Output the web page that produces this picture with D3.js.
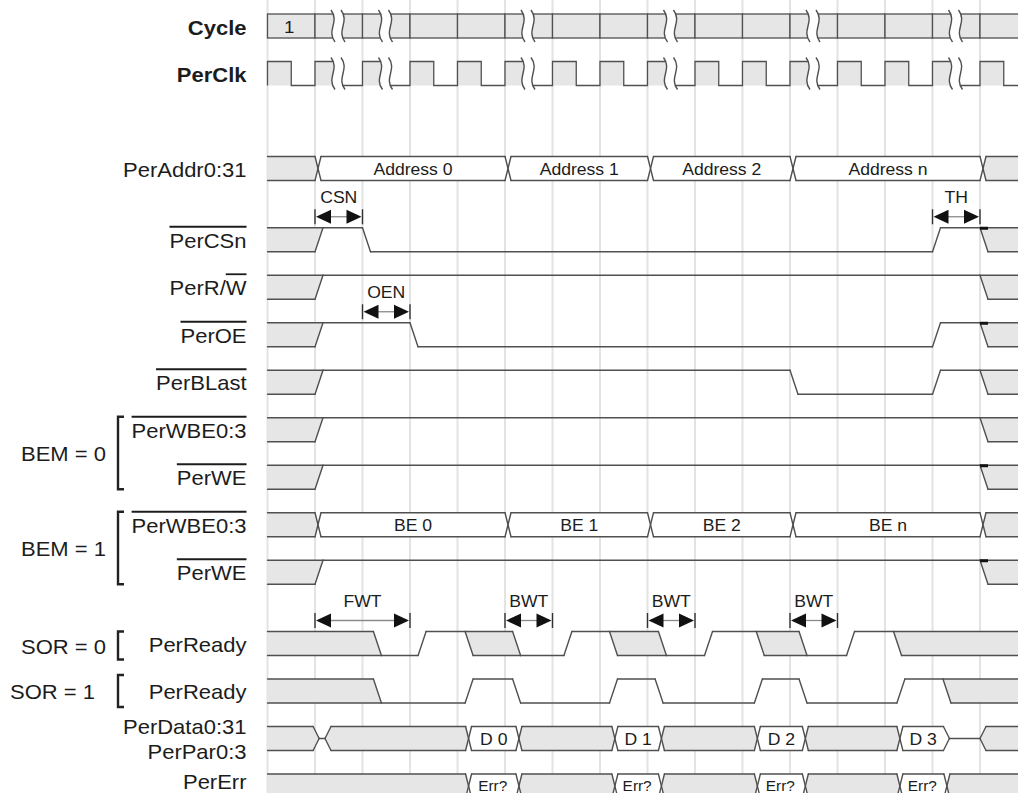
<!DOCTYPE html>
<html><head><meta charset="utf-8">
<script src="https://cdn.jsdelivr.net/npm/d3@7"></script>
<style>
html,body{margin:0;padding:0;background:#fff;}
svg{display:block;overflow:hidden;}
text{font-family:"Liberation Sans",Arial,sans-serif;fill:#1c1c1c;}
</style></head>
<body>
<script>
// ---------------- data ----------------
const cycleCount = 16;
const cycleLabels = ["1"];
const breakCycles = [1, 2, 5, 8, 11, 14];

// waveform events: [time in cycles, state, label]
// states: U = unknown (shaded), D = valid bus, H = high, L = low, Z = float
const perAddr   = [[0,"U"],[1,"D","Address 0"],[5,"D","Address 1"],[8,"D","Address 2"],[11,"D","Address n"],[15,"U"]];
const perCSn    = [[0,"U"],[1,"H"],[2,"L"],[14,"H"],[15,"U"]];
const perRW     = [[0,"U"],[1,"H"],[15,"U"]];
const perOE     = [[0,"U"],[1,"H"],[3,"L"],[14,"H"],[15,"U"]];
const perBLast  = [[0,"U"],[1,"H"],[11,"L"],[14,"H"],[15,"U"]];
const perWBE0   = [[0,"U"],[1,"H"],[15,"U"]];
const perWE0    = [[0,"U"],[1,"H"],[15,"U"]];
const perWBE1   = [[0,"U"],[1,"D","BE 0"],[5,"D","BE 1"],[8,"D","BE 2"],[11,"D","BE n"],[15,"U"]];
const perWE1    = [[0,"U"],[1,"H"],[15,"U"]];
const perReady0 = [[0,"U"],[2.23,"L"],[3.17,"H"],[4.16,"U"],[5.16,"L"],[6.24,"H"],[7.2,"U"],[8.23,"L"],[9.2,"H"],[10.29,"U"],[11.19,"L"],[12.19,"H"],[13.18,"U"]];
const perReady1 = [[0,"U"],[2.23,"L"],[4.16,"H"],[5.16,"L"],[7.2,"H"],[8.16,"L"],[10.25,"H"],[11.19,"L"],[13.25,"H"],[14.22,"U"]];
const perData   = [[0,"U"],[0.96,"Z"],[1.21,"U"],[4.17,"D","D 0"],[5.23,"U"],[7.25,"D","D 1"],[8.23,"U"],[10.25,"D","D 2"],[11.26,"U"],[13.25,"D","D 3"],[14.23,"Z"],[15,"U"]];
const perErr    = [[0,"U"],[4.17,"D","Err?"],[5.23,"U"],[7.25,"D","Err?"],[8.23,"U"],[10.25,"D","Err?"],[11.26,"U"],[13.25,"D","Err?"],[14.24,"U"]];

const rowNames    = ["PerAddr0:31","PerCSn","PerR/W","PerOE","PerBLast","PerWBE0:3","PerWE","PerWBE0:3","PerWE","PerReady","PerReady","PerData0:31\nPerPar0:3","PerErr"];
const rowSlots    = [3, 4.5, 5.5, 6.5, 7.5, 8.5, 9.5, 10.5, 11.5, 13, 14, 15, 16];
const rowWaves    = [perAddr, perCSn, perRW, perOE, perBLast, perWBE0, perWE0, perWBE1, perWE1, perReady0, perReady1, perData, perErr];
const rowOverline = [null,"all","W","all","all","all","all","all","all",null,null,null,null];
const rowMark     = [false,true,false,true,false,false,true,false,true,false,false,false,false];

const spanLabels = ["CSN","OEN","TH","FWT","BWT","BWT","BWT"];
const spanFrom   = [1, 2, 14, 1, 5, 8, 11];
const spanTo     = [2, 3, 15, 3, 6, 9, 12];
const spanSlot   = [4.5, 6.5, 4.5, 13, 13, 13, 13];

const groupLabels = ["BEM = 0","BEM = 1","SOR = 0","SOR = 1"];
const groupFrom   = [8.5, 10.5, 13, 14];
const groupTo     = [9.5, 11.5, 13, 14];

// ---------------- styles ----------------
const W = 1018, Hh = 793, ROWH = 24;
const LINE = "#505050", FILL = "#e6e6e6", GRID = "#e3e3e3";
const STRETCH = 1.1;
const rowEdgeW = [6,8,8,8,8,8,8,6,8,8,8,6,6];
const rowLabelDy = [0,0,0,0,0,0,0,0,0,0,0,0,-5];
const groupLabelX = [21, 21, 21, 10];
const groupTopAdj = [-1, -1, 0, -4];
const groupBotAdj = [0, 0, 4, 4];

const X = d3.scaleLinear().domain([0, cycleCount]).range([267.5, 267.5 + 47.5 * cycleCount]);
const Y = d3.scaleLinear().domain([0, 16]).range([14, 774]);

const svg = d3.select("body").append("svg").attr("width", W).attr("height", Hh);

function stext(g, x, y, str, size, anchor, weight) {
  const gg = g.append("g").attr("transform", `translate(${x},${y}) scale(${STRETCH},1)`);
  const t = gg.append("text").attr("text-anchor", anchor).attr("dominant-baseline", "central")
    .attr("font-size", size).attr("font-weight", weight || "normal").text(str);
  return {g: gg, t: t};
}

// grid
svg.append("g").selectAll("line").data(d3.range(cycleCount)).join("line")
  .attr("x1", d => X(d)).attr("x2", d => X(d)).attr("y1", 0).attr("y2", Hh)
  .attr("stroke", GRID).attr("stroke-width", 2);

// cycle row
const cyc = svg.append("g");
const cTop = Y(0), cBot = Y(0) + ROWH;
cyc.selectAll("rect").data(d3.range(cycleCount)).join("rect")
  .attr("x", d => X(d)).attr("y", cTop).attr("width", X(1) - X(0)).attr("height", ROWH)
  .attr("fill", FILL).attr("stroke", LINE).attr("stroke-width", 1.3);
cycleLabels.forEach((l, i) => stext(cyc, (X(i) + X(i + 1)) / 2 - 2, cTop + ROWH / 2 + 1, l, 17, "middle"));

// clock row
const clk = svg.append("g");
const kTop = Y(1), kBot = Y(1) + ROWH;
clk.selectAll("rect").data(d3.range(cycleCount)).join("rect")
  .attr("x", d => X(d)).attr("y", kTop).attr("width", X(0.5) - X(0)).attr("height", ROWH)
  .attr("fill", FILL);
let cp = `M${X(0)},${kBot}V${kTop}`;
d3.range(cycleCount).forEach(k => { cp += `H${X(k + 0.5)}V${kBot}H${X(k + 1)}V${kTop}`; });
clk.append("path").attr("d", cp).attr("fill", "none").attr("stroke", LINE).attr("stroke-width", 1.3);

// break marks
function squig(cx, top, bot) {
  return [[cx - 2, top - 4], [cx + 7, top + 8], [cx - 7, bot - 8], [cx + 2, bot + 4]];
}
[[cTop, cBot], [kTop, kBot]].forEach(([t, b]) => {
  breakCycles.forEach(c => {
    const a = squig(X(c) + 18, t, b), bb = squig(X(c) + 28, t, b);
    const d1 = `M${a[0]}C${a[1]} ${a[2]} ${a[3]}`;
    const area = `M${a[0]}C${a[1]} ${a[2]} ${a[3]}L${bb[3]}C${bb[2]} ${bb[1]} ${bb[0]}Z`;
    svg.append("path").attr("d", area).attr("fill", "#fff");
    svg.append("path").attr("d", d1).attr("fill", "none").attr("stroke", LINE).attr("stroke-width", 1.4);
    svg.append("path").attr("d", `M${bb[0]}C${bb[1]} ${bb[2]} ${bb[3]}`).attr("fill", "none").attr("stroke", LINE).attr("stroke-width", 1.4);
  });
});

// waveforms
const isR = s => s === "U" || s === "D";
const levelsOf = {U: ["top", "bot"], D: ["top", "bot"], H: ["top"], L: ["bot"], Z: ["mid"]};
function drawWave(events, top, w, mark) {
  const g = svg.append("g");
  const bot = top + ROWH, mid = top + ROWH / 2;
  const yOf = {top: top, bot: bot, mid: mid};
  const xEnd = W + 30;
  const segs = events.map(e => ({t: e[0], s: e[1], label: e[2], start: {}, end: {}}));
  const slants = [];
  segs[0].start = {top: X(0), bot: X(0), mid: X(0)};
  segs[0].left = [[X(0), top], [X(0), bot]];
  const last = segs[segs.length - 1];
  last.end = {top: xEnd, bot: xEnd, mid: xEnd};
  last.right = [[xEnd, top], [xEnd, bot]];
  let tailX = null;
  for (let i = 1; i < segs.length; i++) {
    const A = segs[i - 1], B = segs[i];
    const xa = X(B.t), xb = xa + w, xm = (xa + xb) / 2;
    if (isR(A.s) && isR(B.s)) {
      A.end = {top: xa, bot: xa}; A.right = [[xa, top], [xm, mid], [xa, bot]];
      B.start = {top: xb, bot: xb}; B.left = [[xb, top], [xm, mid], [xb, bot]];
      slants.push([[xa, top], [xb, bot]], [[xa, bot], [xb, top]]);
    } else if (isR(A.s) && B.s === "Z") {
      A.end = {top: xa, bot: xa}; A.right = [[xa, top], [xb, mid], [xa, bot]];
      B.start = {mid: xb};
      slants.push([[xa, top], [xb, mid]], [[xa, bot], [xb, mid]]);
    } else if (A.s === "Z" && isR(B.s)) {
      A.end = {mid: xa};
      B.start = {top: xb, bot: xb}; B.left = [[xb, top], [xa, mid], [xb, bot]];
      slants.push([[xa, mid], [xb, top]], [[xa, mid], [xb, bot]]);
    } else if (isR(A.s) && B.s === "L") {
      A.end = {top: xa, bot: xb}; A.right = [[xa, top], [xb, bot]];
      B.start = {bot: xb}; slants.push([[xa, top], [xb, bot]]);
    } else if (isR(A.s) && B.s === "H") {
      A.end = {top: xb, bot: xa}; A.right = [[xb, top], [xa, bot]];
      B.start = {top: xb}; slants.push([[xa, bot], [xb, top]]);
    } else if (A.s === "H" && isR(B.s)) {
      A.end = {top: xa}; B.start = {top: xa, bot: xb}; B.left = [[xa, top], [xb, bot]];
      slants.push([[xa, top], [xb, bot]]); tailX = xa;
    } else if (A.s === "L" && isR(B.s)) {
      A.end = {bot: xa}; B.start = {top: xb, bot: xa}; B.left = [[xb, top], [xa, bot]];
      slants.push([[xa, bot], [xb, top]]);
    } else if (A.s === "H" && B.s === "L") {
      A.end = {top: xa}; B.start = {bot: xb}; slants.push([[xa, top], [xb, bot]]);
    } else if (A.s === "L" && B.s === "H") {
      A.end = {bot: xa}; B.start = {top: xb}; slants.push([[xa, bot], [xb, top]]);
    }
  }
  // fills
  segs.filter(s => isR(s.s)).forEach(s => {
    const pts = s.left.concat(s.right.slice().reverse());
    g.append("polygon").attr("points", pts.map(p => p.join(",")).join(" "))
      .attr("fill", s.s === "U" ? FILL : "#fff");
  });
  // level lines
  const lines = [];
  segs.forEach(s => levelsOf[s.s].forEach(l => lines.push([[s.start[l], yOf[l]], [s.end[l], yOf[l]]])));
  g.selectAll("line.lv").data(lines.concat(slants)).join("line")
    .attr("x1", d => d[0][0]).attr("y1", d => d[0][1]).attr("x2", d => d[1][0]).attr("y2", d => d[1][1])
    .attr("stroke", LINE).attr("stroke-width", 1.4).attr("stroke-linecap", "round");
  // labels
  segs.filter(s => s.s === "D" && s.label).forEach(s => {
    const cx = (s.start.top + s.end.top) / 2;
    const small = s.label.startsWith("Err");
    stext(g, cx + (small ? -1 : 0), mid + (small ? 0 : 1), s.label, small ? 14 : 16, "middle");
  });
  if (mark && tailX !== null) {
    g.append("line").attr("x1", tailX).attr("x2", tailX + 8).attr("y1", top + 0.5).attr("y2", top + 0.5)
      .attr("stroke", "#111").attr("stroke-width", 3);
  }
}
rowWaves.forEach((ev, i) => drawWave(ev, Y(rowSlots[i]), rowEdgeW[i], rowMark[i]));

// timing spans
function span(x1, x2, y, label) {
  const g = svg.append("g");
  g.append("line").attr("x1", x1 + 12).attr("x2", x2 - 12).attr("y1", y).attr("y2", y).attr("stroke", "#8a8a8a").attr("stroke-width", 1.3);
  g.append("polygon").attr("points", `${x1 + 1},${y} ${x1 + 16},${y - 7} ${x1 + 16},${y + 7}`).attr("fill", "#111");
  g.append("polygon").attr("points", `${x2 - 1},${y} ${x2 - 16},${y - 7} ${x2 - 16},${y + 7}`).attr("fill", "#111");
  [x1, x2].forEach(x => g.append("line").attr("x1", x).attr("x2", x).attr("y1", y - 7.5).attr("y2", y + 7.5).attr("stroke", "#333").attr("stroke-width", 1.4));
  stext(g, (x1 + x2) / 2, y - 18.5, label, 16, "middle");
}
spanLabels.forEach((l, i) => span(X(spanFrom[i]), X(spanTo[i]), Y(spanSlot[i]) - 11, l));

// row labels
const LX = 246.5;
const lab = svg.append("g");
stext(lab, LX, cTop + ROWH / 2 + 1.5, "Cycle", 20, "end", "bold");
stext(lab, LX, kTop + ROWH / 2 + 1.5, "PerClk", 20, "end", "bold");
rowNames.forEach((name, i) => {
  const top = Y(rowSlots[i]);
  const yc = top + ROWH / 2 + 1 + rowLabelDy[i];
  const parts = name.split("\n");
  if (parts.length > 1) {
    stext(lab, LX, yc - 13, parts[0], 20, "end");
    stext(lab, LX, yc + 12, parts[1], 20, "end");
    return;
  }
  const r = stext(lab, LX, yc, name, 20, "end");
  const ov = rowOverline[i];
  if (ov) {
    const node = r.t.node();
    const len = node.getComputedTextLength();
    let xs = -len, xe = 0;
    if (ov !== "all") {
      const idx = name.indexOf(ov);
      xs = node.getStartPositionOfChar(idx).x;
      xe = node.getEndPositionOfChar(idx + ov.length - 1).x;
    }
    const oy = (top - 1) - yc;
    r.g.append("line").attr("x1", xs).attr("x2", xe).attr("y1", oy).attr("y2", oy)
      .attr("stroke", "#1c1c1c").attr("stroke-width", 1.8);
  }
});

// group brackets
groupLabels.forEach((l, i) => {
  const t = Y(groupFrom[i]) + groupTopAdj[i];
  const b = Y(groupTo[i]) + ROWH + groupBotAdj[i];
  const bx = 118;
  lab.append("path").attr("d", `M${bx + 6},${t}H${bx}V${b}H${bx + 6}`)
    .attr("fill", "none").attr("stroke", "#222").attr("stroke-width", 2.4);
  stext(lab, groupLabelX[i], (t + b) / 2 + 1, l, 20, "start");
});
</script>
</body></html>
